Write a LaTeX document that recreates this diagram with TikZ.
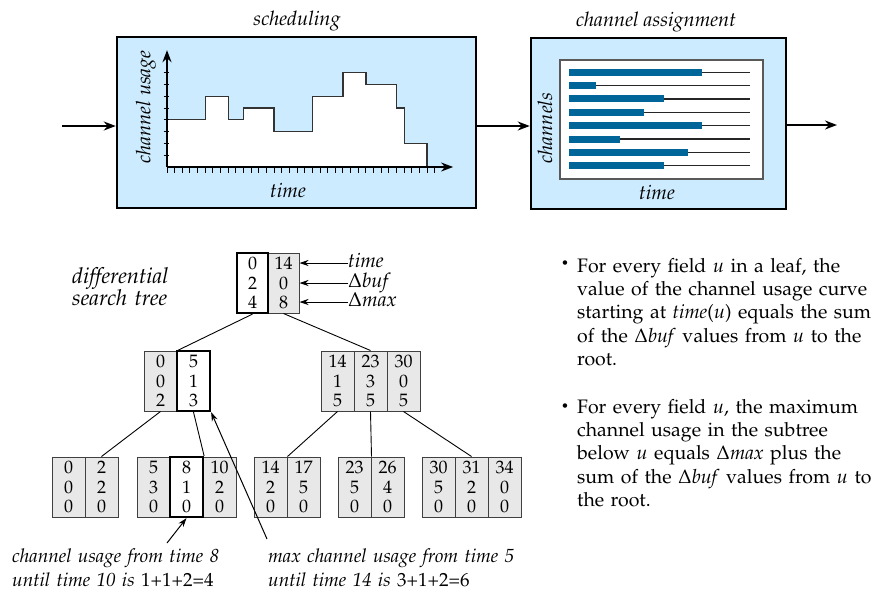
\documentclass[tikz,border=0pt]{standalone}
\usepackage[T1]{fontenc}
\usepackage{mathpazo}
\usetikzlibrary{arrows.meta}

\definecolor{boxblue}{RGB}{204,235,255}
\definecolor{barblue}{RGB}{0,102,153}
\definecolor{fieldgray}{RGB}{232,232,232}

\tikzset{
  stage/.style={draw=black, line width=2.5pt, fill=boxblue},
  flow/.style={line width=1.8pt, -{Stealth[length=12pt,width=9pt]}},
  ptr/.style={line width=1pt, -{Stealth[length=9pt,width=6pt]}},
  edge/.style={line width=0.9pt},
  field/.style={draw=black!75, line width=1pt, fill=fieldgray, minimum width=33,
    minimum height=60, inner sep=0, align=center, font=\fontsize{18}{19.5}\selectfont},
  cur/.style={field, draw=black, line width=2.2pt, fill=white},
  lbl/.style={inner sep=0, font=\fontsize{20}{20}\selectfont\itshape},
  key/.style={lbl, anchor=west, text height=12, text depth=3},
  body/.style={inner sep=0, anchor=base west, text width=330, align=left,
    font=\fontsize{19.5}{23.4}\selectfont},
}

\begin{document}
\begin{tikzpicture}[x=1pt,y=-1pt]
\useasboundingbox (0,0) rectangle (894,592);

% the two stages
\node[stage, minimum width=359, minimum height=171] (sched) at (296.5,122.5) {};
\node[stage, minimum width=255, minimum height=171] (assign) at (658.5,123.5) {};
\node[lbl, anchor=base] (schedt) at (297,25) {scheduling};
\node[lbl, anchor=base] (assignt) at (656,26) {channel assignment};

\coordinate (in) at (62,126);
\coordinate (out) at (837,125);
\draw[flow] (in) -- (in -| sched.west);
\draw[flow] (sched.east |- in) -- (assign.west |- in);
\draw[flow] (assign.east |- out) -- (out);

% usage curve
\begin{scope}[shift={(167,167)}, x=7.65pt, y=11.8pt]
  \fill[white] (0,0) -- (0,4) -| (5,6) -| (8,4) -| (10,5) -| (14,3) -| (19,6)
    -| (23,8) -| (26,7) -| (30,5) -| (31,2) -| (34,0) -- cycle;
  \draw[black!80, line width=1.3pt] (0,4) -| (5,6) -| (8,4) -| (10,5) -| (14,3)
    -| (19,6) -| (23,8) -| (26,7) -| (30,5) -| (31,2) -| (34,0);
  \foreach \i in {1,...,8} \draw[line width=1pt] (-0.45,\i) -- (0.3,\i);
  \foreach \i in {0,...,35} \draw[line width=1pt] (\i,0) -- (\i,-0.5);
  \draw[flow] (0,0) -- (0,9.9);
  \draw[flow] (0,0) -- (37.4,0);
\end{scope}
\node[lbl, rotate=90] (usage) at (146,107) {channel usage};
\node[lbl] (stime) at (288,190) {time};

% channel bars
\draw[black!65, line width=1.5pt, fill=white] (560,60) rectangle (763,179);
\foreach \e [count=\k from 0] in {702,596,664,644,702,620,688,664} {
  \draw[black!85, line width=1.2pt] (569,72.3+13.34*\k) -- (750,72.3+13.34*\k);
  \fill[barblue] (569,68.8+13.34*\k) rectangle (\e,75.8+13.34*\k);
}
\node[lbl, rotate=90] (chan) at (545,128) {channels};
\node[lbl] (atime) at (657,192) {time};

% tree
\node[lbl, anchor=base west, text width=140, align=left,
  font=\fontsize{22}{20.5}\selectfont\itshape] (dst) at (72,283) {differential\\search tree};

\node[field, minimum width=31] (rt2) at (283.5,283) {14\\0\\8};
\node[cur, minimum width=31] (rt1) at (252.5,283) {0\\2\\4};

\node[field] (ma1) at (160.5,381) {0\\0\\2};
\node[cur] (ma2) at (193.5,381) {5\\1\\3};
\node[field] (mb1) at (337.5,381) {14\\1\\5};
\node[field] (mb2) at (370.5,381) {23\\3\\5};
\node[field] (mb3) at (403.5,381) {30\\0\\5};

\node[field] (la1) at (68.5,487) {0\\0\\0};
\node[field] (la2) at (101.5,487) {2\\2\\0};
\node[field] (lb1) at (153.5,487) {5\\3\\0};
\node[field] (lb3) at (219.5,487) {10\\2\\0};
\node[cur] (lb2) at (186.5,487) {8\\1\\0};
\node[field] (lc1) at (270.5,487) {14\\2\\0};
\node[field] (lc2) at (303.5,487) {17\\5\\0};
\node[field] (ld1) at (354.5,487) {23\\5\\0};
\node[field] (ld2) at (387.5,487) {26\\4\\0};
\node[field] (le1) at (438.5,487) {30\\5\\0};
\node[field] (le2) at (471.5,487) {31\\2\\0};
\node[field] (le3) at (504.5,487) {34\\0\\0};

\draw[edge] (rt1.south) -- (ma1.north east);
\draw[edge] (rt2.south) -- (mb2.north);
\draw[edge] (ma1.south) -- (la2.north);
\draw[edge] (ma2.south) -- (lb2.north east);
\draw[edge] (mb1.south) -- (lc1.north east);
\draw[edge] (mb2.south) -- (ld1.north east);
\draw[edge] (mb3.south) -- (le2.north);

\node[key] (ktime) at (348,263) {time};
\node[key] (kbuf) at (348,283) {$\Delta$buf};
\node[key] (kmax) at (348,302) {$\Delta$max};
\draw[ptr] (ktime.west) -- (ktime.west -| rt2.east);
\draw[ptr] (kbuf.west) -- (kbuf.west -| rt2.east);
\draw[ptr] (kmax.west) -- (kmax.west -| rt2.east);

% notes under the tree
\node[lbl, anchor=base west, text width=260, align=left, font=\fontsize{19}{24}\selectfont\itshape]
  (capa) at (12,562) {channel usage from time 8\\until time 10 is {\upshape 1+1+2=4}};
\node[lbl, anchor=base west, text width=300, align=left, font=\fontsize{19}{24}\selectfont\itshape]
  (capb) at (268,562) {max channel usage from time 5\\until time 14 is {\upshape 3+1+2=6}};
\coordinate (pa) at (167,543);
\coordinate (pb) at (267,539);
\draw[ptr] (pa) -- (lb2.south);
\draw[ptr] (pb) -- (ma2.south east);

% invariants
\node[inner sep=0, font=\fontsize{13}{14}\selectfont] (dot1) at (565,264) {\textbullet};
\node[body] (item1) at (577,272) {For every field $u$ in a leaf, the\\
  value of the channel usage curve\\
  starting at \textit{time}($u$) equals the sum\\
  of the $\Delta$\textit{buf} values from $u$ to the\\
  root.};
\node[inner sep=0, font=\fontsize{13}{14}\selectfont] (dot2) at (565,407) {\textbullet};
\node[body] (item2) at (577,413) {For every field $u$, the maximum\\
  channel usage in the subtree\\
  below $u$ equals $\Delta$\textit{max} plus the\\
  sum of the $\Delta$\textit{buf} values from $u$ to\\
  the root.};
\end{tikzpicture}
\end{document}
